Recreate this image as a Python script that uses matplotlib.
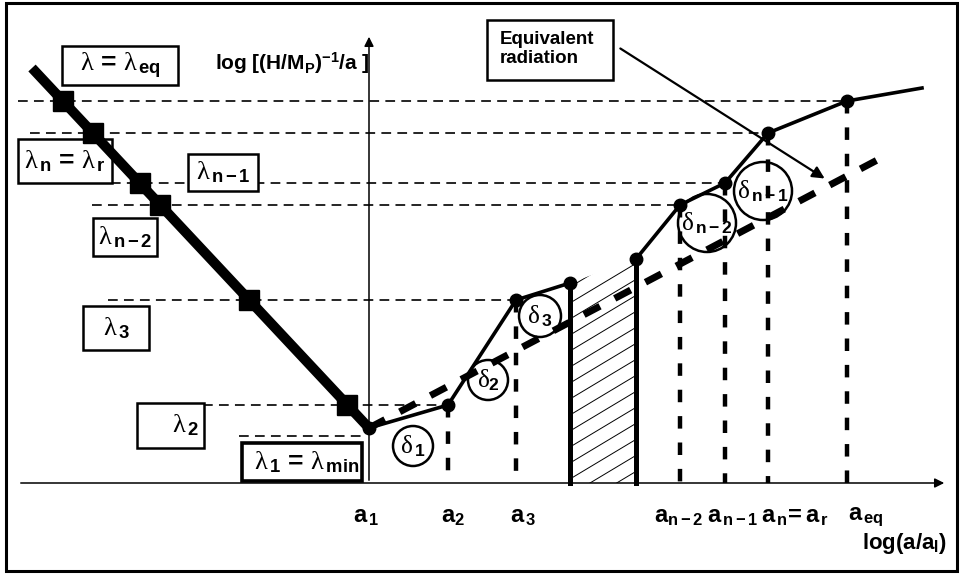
import numpy as np
import matplotlib
import matplotlib.pyplot as plt
from matplotlib.patches import Rectangle, Circle, Polygon, FancyArrowPatch

# Use 'Agg' backend, no display available
matplotlib.use('Agg')

plt.rcParams['font.family'] = ['Liberation Sans', 'DejaVu Sans']
plt.rcParams['mathtext.fontset'] = 'custom'
plt.rcParams['mathtext.rm'] = 'Liberation Sans:bold'
plt.rcParams['mathtext.bf'] = 'Liberation Sans:bold'
plt.rcParams['mathtext.it'] = 'Liberation Serif:regular'
plt.rcParams['lines.scale_dashes'] = False

# schematic units: x = log(a/a_I), y = log[(H/M_P)^-1/a], origin where the axes cross
a_labels = [r'$\mathrm{a_{\,1}}$', r'$\mathrm{a_{2}}$', r'$\mathrm{a_{\,3}}$',
            r'$\mathrm{a_{n-2}}$', r'$\mathrm{a_{\,n-1}}$', r'$\mathrm{a_{\,n}\!= a_{\,r}}$',
            r'$\mathrm{a_{\,eq}}$']
a_pos = [0, 79, 147, 311, 356, 399, 478]
hubble_at_a = [55, 78, 183, 278, 300, 350, 382]

# edges of the hatched gap and the end of the curve
gap_pos = [201, 267]
hubble_at_gap = [200, 224]
end_pos = 553
hubble_end = 395

# wavelength line lambda(a) on the left, and the equivalent radiation line
lambda_x = [-337, 0]
lambda_y = [415, 55]
lambda_min_level = 47
equiv_x = [0, 514]
equiv_y = [55, 326]

lambda_labels = [r'$\lambda\,=\,\lambda_{\,\mathrm{eq}}$', r'$\lambda_{\,\mathrm{n}}\,=\,\lambda_{\,\mathrm{r}}$',
                 r'$\lambda_{\,\mathrm{n-1}}$', r'$\lambda_{\,\mathrm{n-2}}$', r'$\lambda_{\,\mathrm{3}}$',
                 r'$\lambda_{\,\mathrm{2}}$', r'$\lambda_{\,\mathrm{1}}\,=\,\lambda_{\,\mathrm{min}}$']
delta_labels = [r'$\delta_{\,\mathrm{1}}$', r'$\delta_{\mathrm{2}}$', r'$\delta_{\,\mathrm{3}}$',
                r'$\delta_{\,\mathrm{n-2}}$', r'$\delta_{\,\mathrm{n-1}}$']


def draw_diagram():
    fig = plt.figure(figsize=(9.62, 5.75), dpi=100)
    ax = fig.add_axes([0, 0, 1, 1])
    ax.set_xlim(-369, 593)
    ax.set_ylim(-92, 483)
    ax.axis('off')

    # outer frame
    ax.add_patch(Rectangle((-363, -88), 951, 568, fill=False, lw=2.2, ec='black'))

    # axes with arrows
    ax.annotate('', xy=(578, 0), xytext=(-351, 0),
                arrowprops=dict(arrowstyle='-|>', lw=1.1, color='black', mutation_scale=14))
    ax.annotate('', xy=(0, 449), xytext=(0, 0),
                arrowprops=dict(arrowstyle='-|>', lw=1.1, color='black', mutation_scale=14))
    ax.text(-154, 420, r'$\mathrm{log\ [(H/M_P)^{-1}/a\ ]}$', fontsize=15, ha='left', va='center')
    ax.text(493, -60, r'$\mathrm{log(a/a_I)}$', fontsize=16, ha='left', va='center')

    # thin dashed levels from the lambda line to the curve
    dash_starts = [-351, -339, -322, -277, -261, -166]
    for xs, xe, h in zip(dash_starts, a_pos[::-1][:6], hubble_at_a[::-1][:6]):
        ax.plot([xs, xe], [h, h], color='black', lw=1.2, dashes=(7, 4.5), zorder=1)
    ax.plot([-130, -4], [lambda_min_level, lambda_min_level], color='black', lw=1.2,
            dashes=(7, 4.5), zorder=1)

    # label boxes
    boxes = [(-307, 398, 116, 39), (-351, 300, 94, 44), (-181, 292, 70, 37),
             (-276, 227, 64, 38), (-286, 133, 66, 44), (-232, 35, 67, 45), (-127, 2, 120, 38)]
    text_pos = [(-249, 417), (-304, 322), (-146, 311), (-244, 246), (-253, 155), (-184, 58), (-62, 21)]
    for i, (bx, by, bw, bh) in enumerate(boxes):
        lw = 2.6 if i == 6 else 1.8
        ax.add_patch(Rectangle((bx, by), bw, bh, fc='white', ec='black', lw=lw, zorder=3))
        ax.text(text_pos[i][0], text_pos[i][1], lambda_labels[i], fontsize=19,
                ha='center', va='center', zorder=4)

    # thick lambda line with squares at each level
    ax.plot(lambda_x, lambda_y, color='black', lw=7.2, solid_capstyle='butt', zorder=5)
    sq_y = np.array(hubble_at_a[1:])
    sq_x = np.interp(sq_y, lambda_y[::-1], lambda_x[::-1])
    ax.plot(sq_x, sq_y, 's', color='black', ms=15, zorder=6)

    # hatched gap
    gap = Polygon([(gap_pos[0], 0), (gap_pos[0], hubble_at_gap[0]),
                   (gap_pos[1], hubble_at_gap[1]), (gap_pos[1], 0)],
                  closed=True, fill=False, lw=0)
    ax.add_patch(gap)
    for c in np.arange(-60, 260, 16):
        xs = np.array([gap_pos[0], gap_pos[1]])
        line, = ax.plot(xs, c + 0.6 * (xs - gap_pos[0]), color='black', lw=0.7, zorder=2)
        line.set_clip_path(gap)
    for gx, gy in zip(gap_pos, hubble_at_gap):
        ax.plot([gx, gx], [0, gy], color='black', lw=3.6, zorder=5)

    # equivalent radiation line
    ax.plot(equiv_x, equiv_y, color='black', lw=5, dashes=(13, 12), zorder=4)

    # vertical dashed drops to the axis
    for x, h in zip(a_pos[1:], hubble_at_a[1:]):
        ax.plot([x, x], [h, 0], color='black', lw=3.2, dashes=(9, 10), zorder=4)

    # Hubble radius curve
    ax.plot(a_pos[:3] + gap_pos[:1], hubble_at_a[:3] + hubble_at_gap[:1],
            color='black', lw=2.6, zorder=5)
    ax.plot(gap_pos[1:] + a_pos[3:] + [end_pos], hubble_at_gap[1:] + hubble_at_a[3:] + [hubble_end],
            color='black', lw=2.6, zorder=5)
    ax.plot(a_pos + gap_pos, hubble_at_a + hubble_at_gap, 'o', color='black', ms=9, zorder=6)

    # circles with delta labels
    circles = [(44, 37, 20), (119, 103, 20), (171, 167, 21), (338, 260, 29), (394, 292, 29)]
    for (cx, cy, r), lab in zip(circles, delta_labels):
        ax.add_patch(Circle((cx, cy), r, fill=False, ec='black', lw=1.8, zorder=6))
        ax.text(cx, cy, lab, fontsize=18, ha='center', va='center', zorder=7)

    # tick labels under the axis
    offsets = [-3, 5, 7, -2, 8, 27, 19]
    for x, lab, off in zip(a_pos, a_labels, offsets):
        ax.text(x + off, -34, lab, fontsize=17, ha='center', va='center')

    # equivalent radiation note
    ax.add_patch(Rectangle((118, 403), 126, 60, fc='white', ec='black', lw=1.8, zorder=3))
    ax.text(131, 434, 'Equivalent\nradiation', fontsize=13.5, fontweight='bold',
            ha='left', va='center', linespacing=1.15, zorder=4)
    ax.add_patch(FancyArrowPatch((249, 436), (458, 303), arrowstyle='-|>', lw=1.6,
                                 color='black', mutation_scale=18, zorder=6))

    fig.savefig('out.png', dpi=100)
    plt.close(fig)


if __name__ == "__main__":
    draw_diagram()
